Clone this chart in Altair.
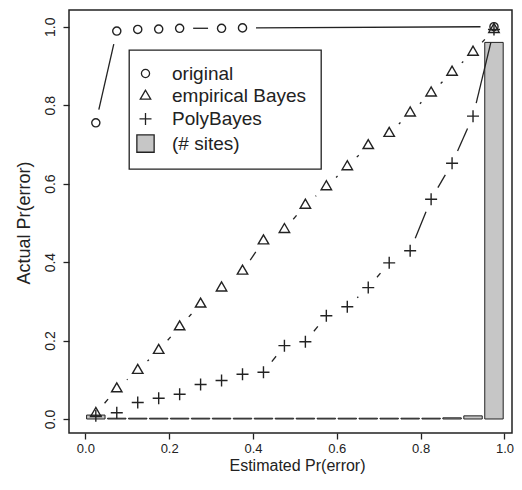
import math
import altair as alt
import pandas as pd

# ---- data ----
bin_centers = [0.025, 0.075, 0.125, 0.175, 0.225, 0.275, 0.325, 0.375, 0.425, 0.475,
               0.525, 0.575, 0.625, 0.675, 0.725, 0.775, 0.825, 0.875, 0.925, 0.975]
original = [0.755, 0.989, 0.993, 0.994, 0.996, None, 0.996, 0.997, None, None,
            None, None, None, None, None, None, None, None, None, 1.0]
empirical_bayes = [0.014, 0.077, 0.124, 0.175, 0.235, 0.293, 0.334, 0.377, 0.454, 0.483,
                   0.545, 0.592, 0.643, 0.697, 0.728, 0.780, 0.831, 0.884, 0.935, 0.993]
poly_bayes = [0.008, 0.016, 0.042, 0.053, 0.063, 0.088, 0.098, 0.114, 0.119, 0.187,
              0.197, 0.263, 0.286, 0.335, 0.398, 0.429, 0.560, 0.652, 0.772, 0.993]
sites = [0.010, 0.002, 0.002, 0.002, 0.002, 0.002, 0.002, 0.002, 0.002, 0.002,
         0.002, 0.002, 0.002, 0.002, 0.002, 0.002, 0.002, 0.003, 0.008, 0.960]
series_names = ["original", "empirical Bayes", "PolyBayes", "(# sites)"]
tick_values = [0.0, 0.2, 0.4, 0.6, 0.8, 1.0]

# ---- layout / style ----
W, H = 443, 423
XDOM = [-0.039, 1.018]
YDOM = [-0.0357, 1.0426]
GAP = 13.5          # gap (px) left around each point on the connecting lines (R type="b")
HALF_BAR = 0.022
INK = "#222222"
FONT = "Liberation Sans"
SYMBOL_SIZE = 144   # path unit = sqrt(size)/2 = 6 px

# symbol outlines (path units; 1 unit = 6 px)
CIRCLE = "M0.68,0A0.68,0.68,0,1,1,-0.68,0A0.68,0.68,0,1,1,0.68,0Z"
TRIANGLE = "M0,-1.0L-0.87,0.5L0.87,0.5Z"
PLUS = "M-1,0L1,0M0,-1L0,1"
SQUARE = "M-1.44,-1.44L1.44,-1.44L1.44,1.44L-1.44,1.44Z"

kx = W / (XDOM[1] - XDOM[0])
ky = H / (YDOM[1] - YDOM[0])

point_rows = []
seg_rows = []
for name, ys in [("original", original), ("empirical Bayes", empirical_bayes), ("PolyBayes", poly_bayes)]:
    pts = [(x, y) for x, y in zip(bin_centers, ys) if y is not None]
    for x, y in pts:
        point_rows.append({"series": name, "x": x, "y": y})
    for (x1, y1), (x2, y2) in zip(pts, pts[1:]):
        L = math.hypot((x2 - x1) * kx, (y2 - y1) * ky)
        if L <= 2 * GAP:
            continue
        t = GAP / L
        seg_rows.append({"series": name,
                         "x": x1 + (x2 - x1) * t, "y": y1 + (y2 - y1) * t,
                         "x2": x2 - (x2 - x1) * t, "y2": y2 - (y2 - y1) * t})

points_df = pd.DataFrame(point_rows)
segs_df = pd.DataFrame(seg_rows)
bars_df = pd.DataFrame({"x": bin_centers, "h": sites, "series": "(# sites)"})

xs = alt.Scale(domain=XDOM, nice=False, zero=False)
ys = alt.Scale(domain=YDOM, nice=False, zero=False)

x_axis = alt.Axis(values=tick_values, format=".1f", title="Estimated Pr(error)",
                  titleBaseline="alphabetic", titleAlign="center", titleX=228, titleY=37,
                  titleFontSize=16, labelFontSize=13, labelPadding=3)
y_axis = alt.Axis(values=tick_values, format=".1f", title="Actual Pr(error)",
                  labelAngle=270, labelAlign="center", labelBaseline="alphabetic",
                  labelFontSize=14, labelPadding=9, titleAngle=270, titleAlign="center",
                  titleBaseline="alphabetic", titleX=-40, titleY=212.5, titleFontSize=18)

shape_scale = alt.Scale(domain=series_names, range=[CIRCLE, TRIANGLE, PLUS, SQUARE])
fill_scale = alt.Scale(domain=series_names,
                       range=["transparent", "transparent", "transparent", "#c6c6c6"])

legend = alt.Legend(title=None, orient="none", legendX=60, legendY=40,
                    padding=14, symbolOffset=-7, labelOffset=17, rowPadding=2.7,
                    symbolSize=SYMBOL_SIZE,
                    labelFontSize=19, labelFont=FONT, labelColor=INK,
                    symbolStrokeColor=INK, symbolStrokeWidth=1.3,
                    strokeColor=INK, fillColor="white", labelLimit=300)

bars = alt.Chart(bars_df).transform_calculate(
    xlo=f"datum.x - {HALF_BAR}", xhi=f"datum.x + {HALF_BAR}", zero="0"
).mark_rect(stroke=INK, strokeWidth=1).encode(
    x=alt.X("xlo:Q", scale=xs, axis=x_axis),
    x2="xhi:Q",
    y=alt.Y("zero:Q", scale=ys, axis=y_axis),
    y2="h:Q",
    fill=alt.Fill("series:N", scale=fill_scale, legend=legend),
)

lines = alt.Chart(segs_df).mark_rule(color=INK, strokeWidth=1.3).encode(
    x=alt.X("x:Q", scale=xs, axis=x_axis),
    x2="x2:Q",
    y=alt.Y("y:Q", scale=ys, axis=y_axis),
    y2="y2:Q",
)

points = alt.Chart(points_df).mark_point(
    stroke=INK, strokeWidth=1.4, opacity=1, size=SYMBOL_SIZE
).encode(
    x=alt.X("x:Q", scale=xs, axis=x_axis),
    y=alt.Y("y:Q", scale=ys, axis=y_axis),
    shape=alt.Shape("series:N", scale=shape_scale, legend=legend),
    fill=alt.Fill("series:N", scale=fill_scale, legend=legend),
)

chart = alt.layer(bars, lines, points).properties(
    width=W, height=H,
    padding={"left": 61, "top": 2, "right": 2, "bottom": 42},
    autosize=alt.AutoSizeParams(type="none"),
    background="white",
).configure_view(
    stroke=INK, strokeWidth=1.5
).configure_axis(
    grid=False, domain=False, ticks=True, tickSize=6, tickColor=INK, tickWidth=1.3,
    labelFont=FONT, labelColor=INK,
    titleFont=FONT, titleColor=INK, titleFontWeight="normal",
).configure_legend(
    strokeWidth=1.3
)

chart.save("out.html", embed_options={"renderer": "svg", "actions": False})
